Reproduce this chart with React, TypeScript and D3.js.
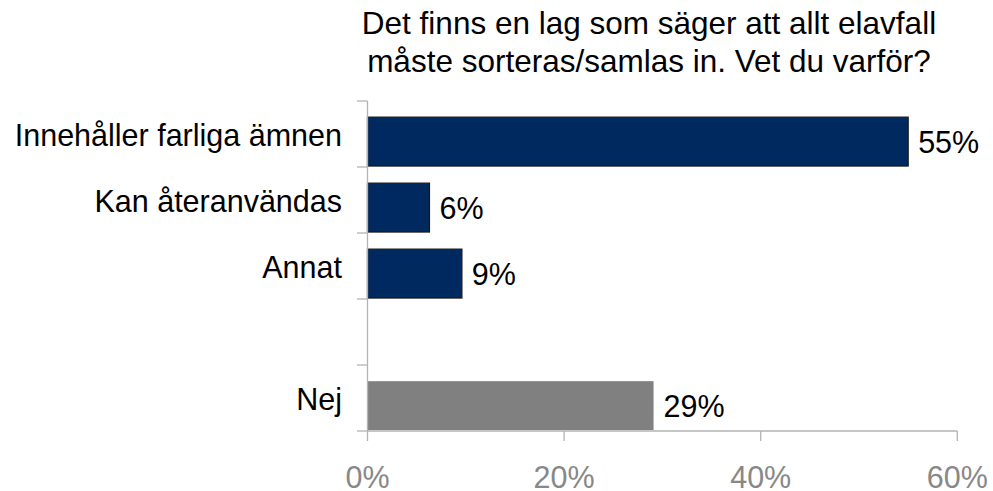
import React from "react";
import * as d3 from "d3";

const titleLines = ["Det finns en lag som säger att allt elavfall", "måste sorteras/samlas in. Vet du varför?"];
const categories = ["Innehåller farliga ämnen", "Kan återanvändas", "Annat", "", "Nej"];
const values = [55, 6.3, 9.6, null, 29.1];
const valueLabels = ["55%", "6%", "9%", "", "29%"];
const barColors = ["#002960", "#002960", "#002960", "none", "#808080"];
const barStrokes = ["#1a1a1a", "#1a1a1a", "#1a1a1a", "none", "none"];
const xTicks = [0, 20, 40, 60];

const W = 993;
const H = 491;
const FONT = "'Liberation Sans', Arial, sans-serif";

export default function App() {
  const x = d3.scaleLinear().domain([0, 60]).range([367.5, 957.3]);
  const y = d3.scaleBand<string>().domain(categories.map((c, i) => String(i))).range([101, 431]).padding(0);
  const bw = y.bandwidth();
  const boundaries = d3.range(categories.length + 1).map((i) => 101 + i * bw);
  const axisColor = "#b3b3b3";

  return (
    <svg width={W} height={H} style={{ position: "absolute", left: 0, top: 0 }} fontFamily={FONT}>
      <rect width={W} height={H} fill="#fff" />
      {titleLines.map((t, i) => (
        <text key={i} x={649} y={34.3 + i * 37.4} textAnchor="middle" fontSize={31.5} fill="#000">
          {t}
        </text>
      ))}
      {/* bars */}
      {categories.map((c, i) => {
        const v = values[i];
        if (v == null) return null;
        const top = (y(String(i)) as number) + bw * 0.245;
        const h = bw * 0.74;
        return (
          <g key={i}>
            <rect
              x={x(0)}
              y={top}
              width={x(v) - x(0)}
              height={h}
              fill={barColors[i]}
              stroke={barStrokes[i]}
              strokeWidth={1.3}
            />
            <text x={x(v) + 10} y={top + h / 2 + 11} fontSize={30.5} fill="#000">
              {valueLabels[i]}
            </text>
          </g>
        );
      })}
      {/* y axis */}
      <line x1={x(0)} x2={x(0)} y1={101} y2={431} stroke={axisColor} strokeWidth={1.3} />
      {boundaries.map((b, i) => (
        <line key={i} x1={357} x2={x(0)} y1={b} y2={b} stroke={axisColor} strokeWidth={1.3} />
      ))}
      {categories.map((c, i) => (
        <text
          key={i}
          x={342}
          y={(y(String(i)) as number) + bw / 2 + 11.5}
          textAnchor="end"
          fontSize={30.5}
          fill="#000"
        >
          {c}
        </text>
      ))}
      {/* x axis */}
      <line x1={x(0)} x2={x(60)} y1={431} y2={431} stroke={axisColor} strokeWidth={1.3} />
      {xTicks.map((t) => (
        <g key={t}>
          <line x1={x(t)} x2={x(t)} y1={431} y2={441} stroke={axisColor} strokeWidth={1.3} />
          <text x={x(t)} y={488} textAnchor="middle" fontSize={30.5} fill="#888888">
            {t + "%"}
          </text>
        </g>
      ))}
    </svg>
  );
}
